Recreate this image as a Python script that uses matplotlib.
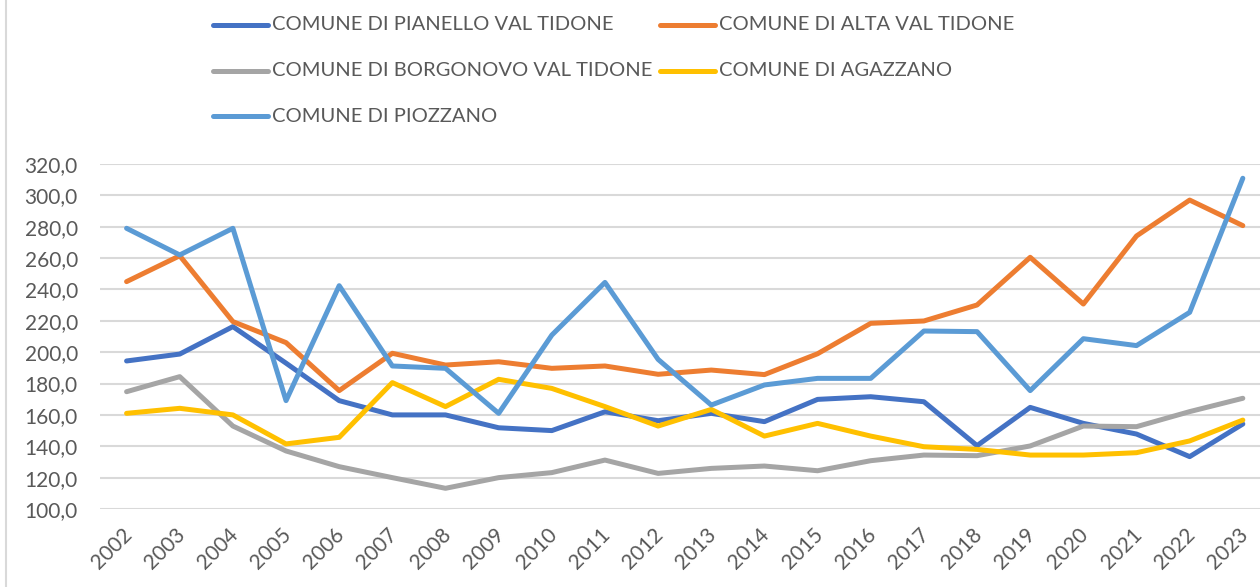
import numpy as np
import matplotlib.pyplot as plt
from matplotlib.lines import Line2D
from matplotlib.ticker import FuncFormatter
from matplotlib.transforms import ScaledTranslation

years = [str(y) for y in range(2002, 2024)]

pianello = [194.4, 198.8, 216.3, 193.0, 169.1, 160.0, 160.0, 151.8, 150.0, 162.0, 156.3,
            161.0, 155.7, 169.9, 171.6, 168.4, 140.4, 164.8, 154.6, 147.8, 133.4, 154.2]
alta = [245.0, 261.5, 219.5, 206.1, 175.5, 199.3, 191.8, 193.9, 189.7, 191.2, 185.9,
        188.6, 185.7, 199.0, 218.4, 219.9, 230.1, 260.5, 230.7, 274.1, 297.0, 280.7]
borgonovo = [174.8, 184.4, 152.9, 137.0, 127.0, 120.0, 113.2, 120.0, 123.2, 131.2, 122.7,
             125.9, 127.4, 124.4, 130.8, 134.4, 134.0, 140.2, 152.9, 152.5, 162.1, 170.6]
agazzano = [161.0, 164.2, 160.0, 141.5, 145.7, 180.6, 165.3, 182.7, 176.9, 165.3, 152.9,
            163.5, 146.5, 154.6, 146.5, 139.7, 138.0, 134.4, 134.4, 135.9, 143.4, 156.7]
piozzano = [279.0, 262.0, 279.0, 169.1, 242.4, 191.2, 189.7, 161.0, 210.9, 244.5, 195.4,
            166.3, 179.1, 183.3, 183.3, 213.5, 213.1, 175.5, 208.6, 204.2, 225.4, 310.9]

names = ["COMUNE DI PIANELLO VAL TIDONE", "COMUNE DI ALTA VAL TIDONE",
         "COMUNE DI BORGONOVO VAL TIDONE", "COMUNE DI AGAZZANO",
         "COMUNE DI PIOZZANO"]
series = [pianello, alta, borgonovo, agazzano, piozzano]
colors = ['#4472C4', '#ED7D31', '#A5A5A5', '#FFC000', '#5B9BD5']

plt.rcParams['font.family'] = ['Lato', 'DejaVu Sans']
text_color = '#595959'
W, H = 1260, 587

fig = plt.figure(figsize=(W / 100, H / 100), dpi=100)
ax = fig.add_axes([100 / W, 78 / H, 1169.4 / W, 345 / H])

x = np.arange(len(years))
for vals, c in zip(series, colors):
    ax.plot(x, vals, color=c, lw=3.6, solid_joinstyle='round', solid_capstyle='round')

ax.set_xlim(-0.5, len(years) - 0.5)
ax.set_ylim(100, 320)
ax.set_yticks(range(100, 321, 20))
ax.yaxis.set_major_formatter(FuncFormatter(lambda v, p: f"{v:.1f}".replace('.', ',')))
ax.set_xticks(x)
ax.set_xticklabels(years, rotation=45, ha='right', rotation_mode='anchor')
ax.tick_params(axis='both', length=0, labelsize=15, labelcolor=text_color)
ax.tick_params(axis='y', pad=16)
ax.tick_params(axis='x', pad=11)
# nudge the slanted year labels a little to the left
shift = ScaledTranslation(-0.05, 0, fig.dpi_scale_trans)
for lab in ax.get_xticklabels():
    lab.set_transform(lab.get_transform() + shift)
ax.yaxis.grid(True, color='#d9d9d9', lw=1.5)
ax.set_axisbelow(True)
for s in ax.spines.values():
    s.set_visible(False)

# legend drawn by hand: two columns, three rows
col_x = [213, 660]
row_y = [25, 71, 116]
for i, (name, c) in enumerate(zip(names, colors)):
    x0 = col_x[i % 2]
    y0 = H - row_y[i // 2]
    fig.add_artist(Line2D([x0 / W, (x0 + 55) / W], [y0 / H, y0 / H], color=c, lw=3.6,
                          solid_capstyle='round', transform=fig.transFigure))
    fig.text((x0 + 59) / W, y0 / H, name, fontsize=14.5, color=text_color, va='center', ha='left')

# chart area border on the left
fig.add_artist(Line2D([6 / W, 6 / W], [0, 1], color='#d9d9d9', lw=1.5, transform=fig.transFigure))

fig.savefig('out.png', dpi=100)
